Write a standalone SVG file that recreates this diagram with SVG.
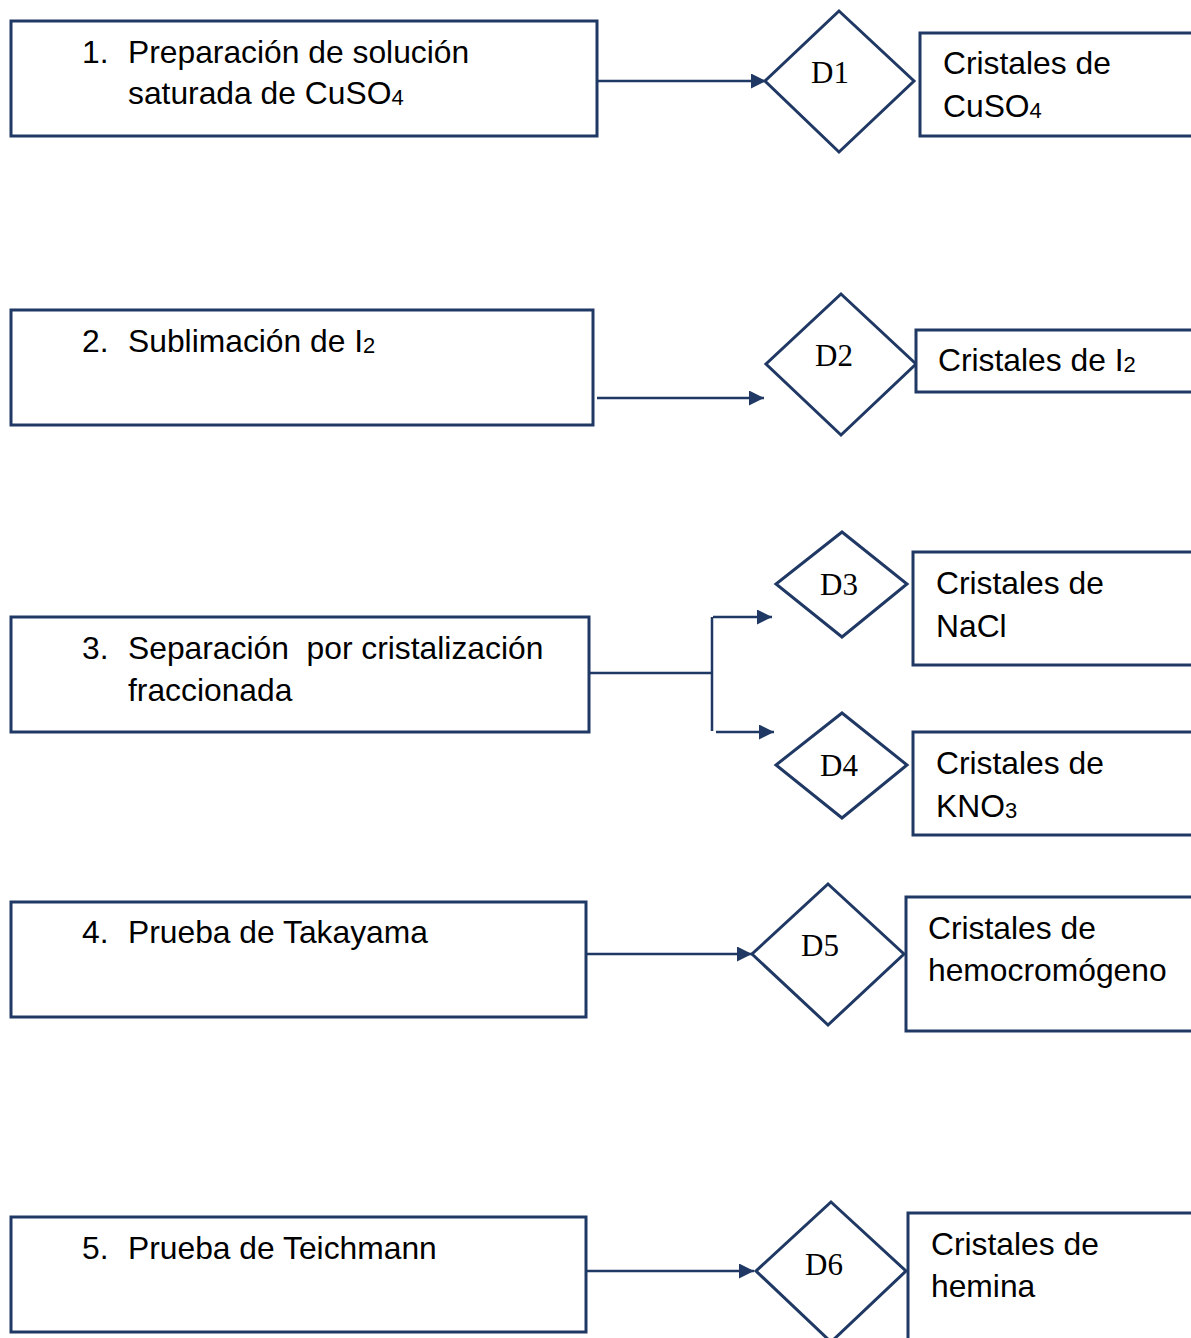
<svg xmlns="http://www.w3.org/2000/svg" width="1191" height="1338" viewBox="0 0 1191 1338">
<style>
.box{fill:#fff;stroke:#1f3864;stroke-width:3}
.dia{fill:#fff;stroke:#1f3864;stroke-width:3}
.t{font-family:"Liberation Sans",Arial,sans-serif;font-size:31.8px;fill:#000}
.d{font-family:"Liberation Serif","Times New Roman",serif;font-size:31px;fill:#000}
.c{fill:none;stroke:#1f3864;stroke-width:2.5}
.sub{font-size:22px}
</style>
<defs>
<marker id="ah" viewBox="0 0 15 15" refX="15" refY="7.5" markerWidth="15" markerHeight="15" markerUnits="userSpaceOnUse" orient="auto">
<path d="M0,0 L15,7.5 L0,15 Z" fill="#1f3864"/>
</marker>
</defs>
<rect width="1191" height="1338" fill="#fff"/>

<g id="connectors">
<line class="c" x1="597" y1="81" x2="766" y2="81" marker-end="url(#ah)"/>
<line class="c" x1="597" y1="398" x2="764" y2="398" marker-end="url(#ah)"/>
<line class="c" x1="589" y1="673" x2="712" y2="673"/>
<line class="c" x1="712" y1="617" x2="712" y2="731"/>
<line class="c" x1="713" y1="617" x2="772" y2="617" marker-end="url(#ah)"/>
<line class="c" x1="716" y1="732" x2="774" y2="732" marker-end="url(#ah)"/>
<line class="c" x1="584" y1="954" x2="752" y2="954" marker-end="url(#ah)"/>
<line class="c" x1="586" y1="1271" x2="754" y2="1271" marker-end="url(#ah)"/>
</g>

<g id="step1">
<rect class="box" x="11" y="21" width="586" height="115"/>
<text class="t" x="82" y="63">1.</text>
<text class="t" x="128" y="63">Preparación de solución</text>
<text class="t" x="128" y="104">saturada de CuSO<tspan class="sub" dy="1">4</tspan></text>
</g>
<g id="D1">
<polygon class="dia" points="839,11 914,81 839,152 765,81"/>
<text class="d" x="830" y="83" text-anchor="middle">D1</text>
</g>
<g id="res1">
<rect class="box" x="920" y="33" width="280" height="103"/>
<text class="t" x="943" y="74">Cristales de</text>
<text class="t" x="943" y="117">CuSO<tspan class="sub" dy="1">4</tspan></text>
</g>

<g id="step2">
<rect class="box" x="11" y="310" width="582" height="115"/>
<text class="t" x="82" y="352">2.</text>
<text class="t" x="128" y="352">Sublimación de I<tspan class="sub" dy="1">2</tspan></text>
</g>
<g id="D2">
<polygon class="dia" points="841,294 916,364 841,435 766,364"/>
<text class="d" x="834" y="366" text-anchor="middle">D2</text>
</g>
<g id="res2">
<rect class="box" x="916" y="330" width="284" height="62"/>
<text class="t" x="938" y="371">Cristales de I<tspan class="sub" dy="1">2</tspan></text>
</g>

<g id="step3">
<rect class="box" x="11" y="617" width="578" height="115"/>
<text class="t" x="82" y="659">3.</text>
<text class="t" x="128" y="659" xml:space="preserve">Separación  por cristalización</text>
<text class="t" x="128" y="701">fraccionada</text>
</g>
<g id="D3">
<polygon class="dia" points="842,532 907,584 842,637 776,584"/>
<text class="d" x="839" y="595" text-anchor="middle">D3</text>
</g>
<g id="res3">
<rect class="box" x="913" y="552" width="287" height="113"/>
<text class="t" x="936" y="594">Cristales de</text>
<text class="t" x="936" y="637">NaCl</text>
</g>
<g id="D4">
<polygon class="dia" points="842,713 907,765 842,818 776,765"/>
<text class="d" x="839" y="776" text-anchor="middle">D4</text>
</g>
<g id="res4">
<rect class="box" x="913" y="732" width="287" height="103"/>
<text class="t" x="936" y="774">Cristales de</text>
<text class="t" x="936" y="817">KNO<tspan class="sub" dy="1">3</tspan></text>
</g>

<g id="step4">
<rect class="box" x="11" y="902" width="575" height="115"/>
<text class="t" x="82" y="943">4.</text>
<text class="t" x="128" y="943">Prueba de Takayama</text>
</g>
<g id="D5">
<polygon class="dia" points="828,884 904,954 828,1025 752,954"/>
<text class="d" x="820" y="956" text-anchor="middle">D5</text>
</g>
<g id="res5">
<rect class="box" x="906" y="897" width="294" height="134"/>
<text class="t" x="928" y="939">Cristales de</text>
<text class="t" x="928" y="981">hemocromógeno</text>
</g>

<g id="step5">
<rect class="box" x="11" y="1217" width="575" height="115"/>
<text class="t" x="82" y="1259">5.</text>
<text class="t" x="128" y="1259">Prueba de Teichmann</text>
</g>
<g id="D6">
<polygon class="dia" points="831,1202 906,1271 831,1342 756,1271"/>
<text class="d" x="824" y="1275" text-anchor="middle">D6</text>
</g>
<g id="res6">
<rect class="box" x="908" y="1213" width="292" height="140"/>
<text class="t" x="931" y="1255">Cristales de</text>
<text class="t" x="931" y="1297">hemina</text>
</g>
</svg>
